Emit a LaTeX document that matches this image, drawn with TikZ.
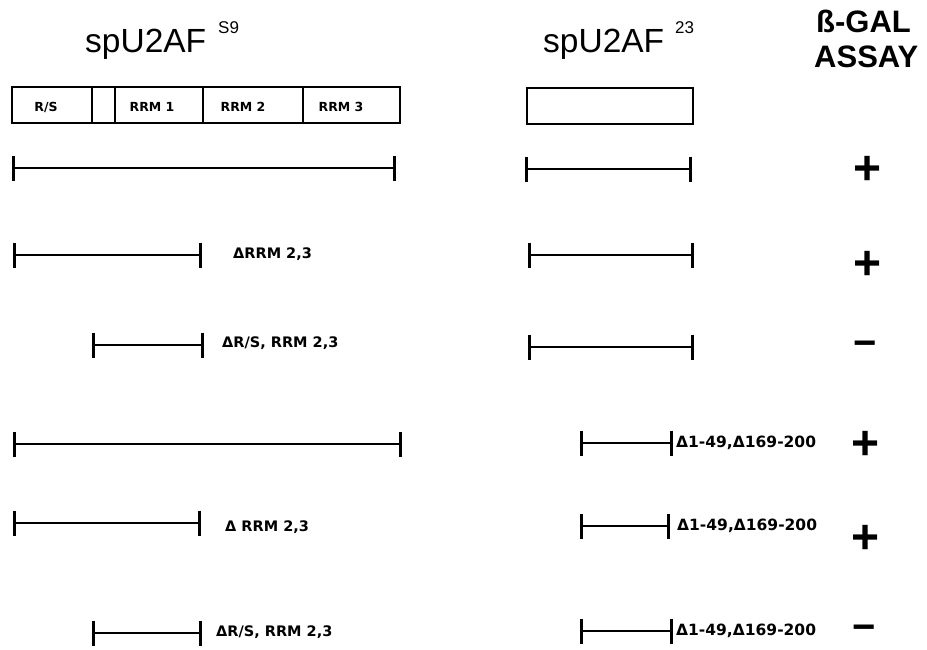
\documentclass[tikz,border=0pt]{standalone}
\usepackage{fontspec}
\setmainfont{Liberation Sans}
\newfontfamily\dvs{DejaVu Sans}
\usetikzlibrary{arrows.meta}
\tikzset{
  seg/.style={line width=2pt, {Bar[width=25pt,line width=2.8pt]}-{Bar[width=25pt,line width=2.8pt]}},
  cell/.style={draw, line width=1.4pt, rectangle, inner sep=0pt, outer sep=0pt, minimum height=36pt, anchor=north west},
  ttl/.style={inner sep=0pt, anchor=base west, font=\fontsize{33.5}{40}\selectfont},
  sup/.style={inner sep=0pt, anchor=base west, font=\fontsize{17}{19}\selectfont},
  hdr/.style={inner sep=0pt, anchor=base west, font=\fontsize{31}{36}\selectfont\bfseries},
  cl/.style={inner sep=0pt, anchor=center, font=\dvs\bfseries\fontsize{12.5}{14}\selectfont},
  lab/.style={inner sep=0pt, anchor=west, font=\dvs\bfseries\fontsize{14.5}{16}\selectfont},
  rlab/.style={inner sep=0pt, anchor=west, font=\dvs\bfseries\fontsize{15.5}{17}\selectfont},
  res/.style={inner sep=0pt, anchor=base, font=\fontsize{48}{52}\selectfont\bfseries},
  resm/.style={inner sep=0pt, anchor=base, font=\fontsize{40}{44}\selectfont\bfseries}
}
\begin{document}
\begin{tikzpicture}[x=1pt,y=-1pt]
\useasboundingbox (0,0) rectangle (927,649);
% titles
\node[ttl] (t1) at (85,52) {spU2AF};
\node[sup] (s1) at (218,33) {S9};
\node[ttl] (t2) at (543,52) {spU2AF};
\node[sup] (s2) at (675,33) {23};
\node[hdr] (h1) at (816,32) {ß-GAL};
\node[hdr] (h2) at (814,67) {ASSAY};
% domain box
\node[cell, minimum width=80pt] (crs) at (12,87) {};
\node[cell, minimum width=23pt] (cg) at (92,87) {};
\node[cell, minimum width=88pt] (cr1) at (115,87) {};
\node[cell, minimum width=100pt] (cr2) at (203,87) {};
\node[cell, minimum width=97pt] (cr3) at (303,87) {};
\node[cl] (lrs) at (46,107) {R/S};
\node[cl] (lr1) at (152,107) {RRM 1};
\node[cl] (lr2) at (243,107) {RRM 2};
\node[cl] (lr3) at (341,107) {RRM 3};
\node[cell, minimum width=166pt] (cb) at (527,88) {};
% row coordinates
\coordinate (a1) at (12,168);  \coordinate (b1) at (396,168);
\coordinate (c1) at (525,169); \coordinate (d1) at (692,169);
\coordinate (a2) at (13,255);  \coordinate (b2) at (202,255);
\coordinate (c2) at (528,255); \coordinate (d2) at (694,255);
\coordinate (a3) at (92,345);  \coordinate (b3) at (204,345);
\coordinate (c3) at (528,347); \coordinate (d3) at (694,347);
\coordinate (a4) at (13,444);  \coordinate (b4) at (402,444);
\coordinate (c4) at (580,443); \coordinate (d4) at (673,443);
\coordinate (a5) at (13,523);  \coordinate (b5) at (201,523);
\coordinate (c5) at (580,526); \coordinate (d5) at (670,526);
\coordinate (a6) at (92,633);  \coordinate (b6) at (202,633);
\coordinate (c6) at (580,631); \coordinate (d6) at (673,631);
\foreach \i in {1,...,6} {
  \draw[seg] (a\i) -- (b\i);
  \draw[seg] (c\i) -- (d\i);
}
% labels
\node[lab] (l2) at (233,254) {ΔRRM 2,3};
\node[lab] (l3) at (222,343) {ΔR/S, RRM 2,3};
\node[lab] (l5) at (225,527) {Δ RRM 2,3};
\node[lab] (l6) at (216,632) {ΔR/S, RRM 2,3};
\node[rlab] (r4) at (676,443) {Δ1-49,Δ169-200};
\node[rlab] (r5) at (677,526) {Δ1-49,Δ169-200};
\node[rlab] (r6) at (676,631) {Δ1-49,Δ169-200};
% results
\node[res] (p1) at (868,184) {+};
\node[res] (p2) at (868,279) {+};
\node[resm] (m3) at (865,356) {−};
\node[res] (p4) at (866,459) {+};
\node[res] (p5) at (866,553) {+};
\node[resm] (m6) at (864,640) {−};
\end{tikzpicture}
\end{document}
